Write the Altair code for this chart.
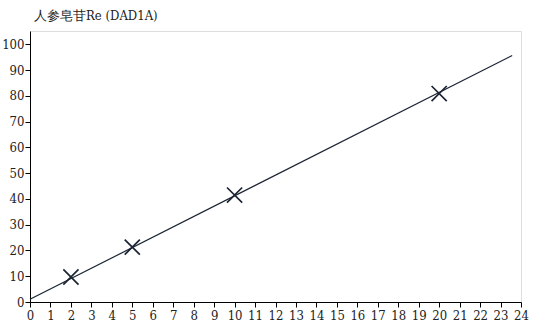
import altair as alt
import pandas as pd

pt_x = [2, 5, 10, 20]
pt_y = [9.7, 21.3, 41.5, 80.9]
line_x = [0, 23.57]
line_y = [1.05, 95.7]
x_ticks = list(range(0, 25))
y_ticks = list(range(0, 101, 10))

pts = pd.DataFrame({"x": pt_x, "y": pt_y})
ln = pd.DataFrame({"x": line_x, "y": line_y})

font = "DejaVu Serif Condensed, DejaVu Serif"
xs = alt.Scale(domain=[0, 24], nice=False, zero=False)
ys = alt.Scale(domain=[0, 105.2], nice=False, zero=False)

xax = alt.Axis(values=x_ticks, grid=False, title=None, tickSize=5, labelOverlap=False,
               labelFontSize=13, labelFont=font, labelColor="#222", domainColor="#000",
               tickColor="#000", labelPadding=2, labelFlush=False)
yax = alt.Axis(values=y_ticks, grid=False, title=None, tickSize=5, labelOverlap=False,
               labelFontSize=13, labelFont=font, labelColor="#222", domainColor="#000",
               tickColor="#000", labelPadding=1)

line = alt.Chart(ln).mark_line(color="#1c2533", strokeWidth=1.2).encode(
    x=alt.X("x:Q", scale=xs, axis=xax),
    y=alt.Y("y:Q", scale=ys, axis=yax),
)
marks = alt.Chart(pts).mark_point(
    shape="M-1,-1L1,1M-1,1L1,-1", size=230, filled=False, color="#1c2533", strokeWidth=1.7, opacity=1
).encode(x=alt.X("x:Q", scale=xs, axis=xax), y=alt.Y("y:Q", scale=ys, axis=yax))

chart = (line + marks).properties(
    width=491, height=271,
    title=alt.TitleParams("人参皂苷Re (DAD1A)", anchor="start", frame="group", fontSize=13, font=font,
                          fontWeight="normal", color="#222", offset=8, dx=4),
    padding={"left": 30, "top": 31, "right": 16, "bottom": 24},
    autosize="none",
).configure_view(stroke="#000", strokeWidth=1.5).configure(background="white", font=font)

chart.save("out.html", embed_options={"renderer": "svg", "actions": False})
